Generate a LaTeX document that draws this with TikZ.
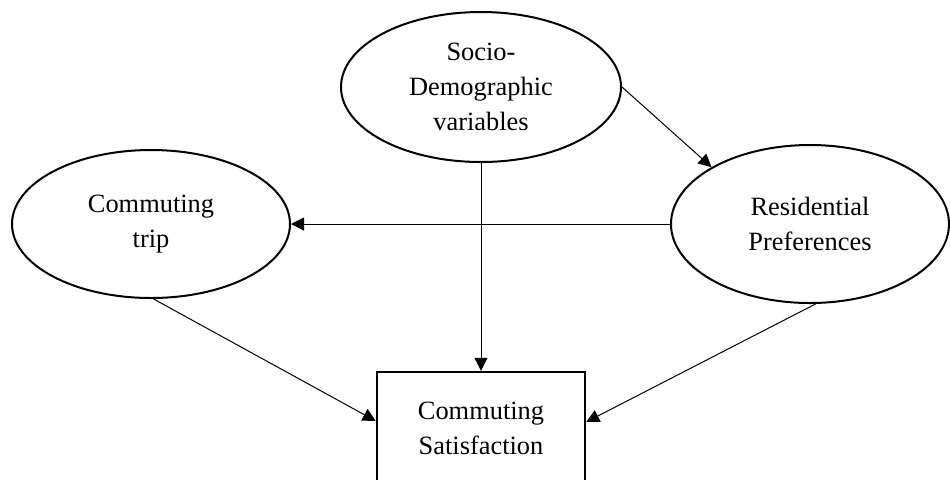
\documentclass[tikz,border=0pt]{standalone}
\usepackage{fontspec}
\setmainfont{Liberation Serif}
\usepackage{tikz}
\usetikzlibrary{shapes, shapes.geometric, arrows.meta, calc}
\tikzstyle{latente} = [
    ellipse,
    draw = black,
    line width = 1pt,
    inner sep = 0pt,
    align = center,
    font = \fontsize{13.2}{17.5}\selectfont,
]
\tikzstyle{resultat} = [
    rectangle,
    draw = black,
    line width = 1.2pt,
    minimum width = 104pt,
    minimum height = 56pt,
    align = center,
    font = \fontsize{13.2}{17.5}\selectfont,
]
\tikzstyle{fleche} = [
    line width = 0.5pt,
    -{Triangle[length = 6.5pt, width = 6.5pt]},
]

\begin{document}
\begin{tikzpicture} [x = 0.5pt, y = -0.5pt]
    \useasboundingbox (0, 0) rectangle (950, 479);
    \clip (0, 0) rectangle (950, 479);

    \node (Sociodemo) [latente, minimum width = 140pt, minimum height = 75pt] at (481, 87) {Socio-\\Demographic\\variables};
    \node (Commuting) [latente, minimum width = 139pt, minimum height = 74pt] at (151, 224) {Commuting\\trip};
    \node (Residential) [latente, minimum width = 139pt, minimum height = 79pt] at (810, 224) {Residential\\Preferences};

    \node (Satisfaction) [resultat] at (481, 428) {Commuting\\Satisfaction};

    \draw[fleche] (Sociodemo.east) -- (Residential.150);
    \draw[fleche] (Residential.west) -- (Commuting.east);
    \draw[fleche] (Sociodemo.south) -- (Satisfaction.north);
    \draw[fleche] (Commuting.-88) -- ([yshift = 3.5pt]Satisfaction.west);
    \draw[fleche] (Residential.-86) -- ([yshift = 3pt]Satisfaction.east);
\end{tikzpicture}
\end{document}
